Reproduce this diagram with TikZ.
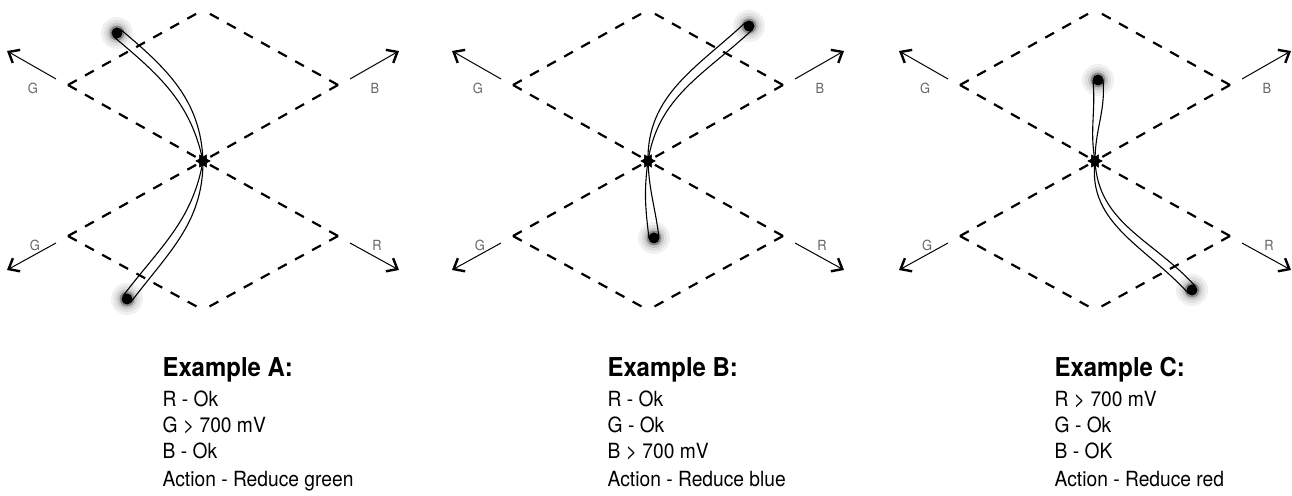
\documentclass[tikz,border=0pt]{standalone}
\usepackage{fontspec}
\setmainfont{TeX Gyre Heros}[FakeStretch=0.92]
\usetikzlibrary{arrows.meta,shapes.geometric,calc,positioning}

\tikzset{
    grid/.style={line width=2.2pt, dash pattern=on 10pt off 9.5pt},
    axis/.style={line width=1pt, -{Straight Barb[length=9pt,width=15pt,line width=2.4pt]}},
    axislabel/.style={text=black!60, font=\fontsize{14}{14}\selectfont, inner sep=0pt},
    origin/.style={star, star points=6, star point ratio=1.8, shape border rotate=30,
        fill=black, inner sep=0pt, minimum size=15pt},
    spot/.style={circle, fill=black, inner sep=0pt, minimum size=11pt},
    trace/.style={line width=1.1pt},
    heading/.style={font=\bfseries\fontsize{26}{26}\selectfont, anchor=base west, inner sep=0pt},
    body/.style={font=\fontsize{20.9}{20.9}\selectfont, anchor=base west, inner sep=0pt},
}

\begin{document}
\begin{tikzpicture}[x=1pt, y=1pt]
    \useasboundingbox (0,0) rectangle (1292,495);

    \foreach \cx/\nm/\ux/\uy/\uo/\ui/\lx/\ly/\lo/\li/\ta/\tb/\tc/\td in {
        203/A/-86/128/97/-40/-76/-138/-95/53/R - Ok/G > 700 mV/B - Ok/Action - Reduce green,
        648/B/101/135/86/-137/6/-77/-93/97/R - Ok/G - Ok/B > 700 mV/Action - Reduce blue,
        1095/C/3/81/95/-85/97/-129/-92/132/R > 700 mV/G - Ok/B - OK/Action - Reduce red} {
        \begin{scope}[shift={(\cx,334)}]
            \node[origin] (o\nm) at (0,0) {};
            \coordinate (top\nm) at (0,151);
            \coordinate (bot\nm) at (0,-149);
            \coordinate (ul\nm) at (-135,76);
            \coordinate (ur\nm) at (135,76);
            \coordinate (ll\nm) at (-135,-75);
            \coordinate (lr\nm) at (135,-75);

            \foreach \s/\e in {ul/top, ur/top, ll/bot, lr/bot, ul/o, ur/o, ll/o, lr/o}
                \draw[grid] (\s\nm) -- (\e\nm);

            \foreach \k/\tx/\ty/\hx/\hy/\bx/\by/\lab in {
                1/-147/82/-196/110/-170/73/G,
                2/147/82/196/110/172/73/B,
                3/-147/-82/-196/-109/-168/-84/G,
                4/147/-82/196/-109/174/-84/R} {
                \coordinate (tail\nm\k) at (\tx,\ty);
                \coordinate (head\nm\k) at (\hx,\hy);
                \draw[axis] (tail\nm\k) -- (head\nm\k);
                \node[axislabel] (lab\nm\k) at (\bx,\by) {\lab};
            }

            \foreach \r/\g in {16/6, 13/12, 10/22, 7.5/45} {
                \fill[black!\g] (\ux,\uy) circle (\r);
                \fill[black!\g] (\lx,\ly) circle (\r);
            }
            \node[spot] (up\nm) at (\ux,\uy) {};
            \node[spot] (dn\nm) at (\lx,\ly) {};

            \draw[trace] (o\nm.center) to[out=\uo-5,in=\ui] ($(up\nm)+(\ui+90:5)$);
            \draw[trace] (o\nm.center) to[out=\uo+5,in=\ui] ($(up\nm)+(\ui-90:5)$);
            \draw[trace] (o\nm.center) to[out=\lo-5,in=\li] ($(dn\nm)+(\li+90:5)$);
            \draw[trace] (o\nm.center) to[out=\lo+5,in=\li] ($(dn\nm)+(\li-90:5)$);
            \node[origin] at (o\nm) {};
        \end{scope}

        \node[heading] (head\nm) at (\cx-40.5,118) {Example \nm:};
        \node[body] (r\nm) at (\cx-40.5,88.3) {\ta};
        \node[body] (g\nm) at (\cx-40.5,62.3) {\tb};
        \node[body] (b\nm) at (\cx-40.5,36.5) {\tc};
        \node[body] (act\nm) at (\cx-40.5,8.3) {\td};
    }
\end{tikzpicture}
\end{document}
